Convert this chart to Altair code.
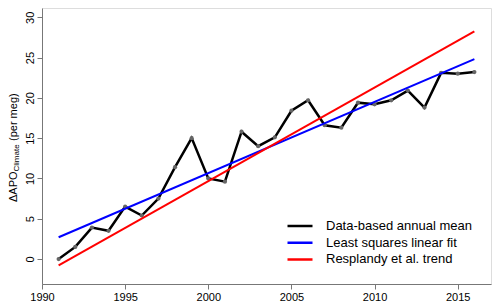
import altair as alt
import pandas as pd

years = list(range(1991, 2017))
apo = [0.0, 1.5, 3.9, 3.5, 6.5, 5.4, 7.5, 11.4, 15.0, 10.0, 9.6, 15.8, 14.0,
       15.1, 18.4, 19.7, 16.6, 16.3, 19.4, 19.2, 19.7, 20.9, 18.8, 23.1, 23.0, 23.2]
fit_years = [1991, 2016]
ls_fit = [2.7, 24.8]
resplandy = [-0.8, 28.25]
series_names = ["Data-based annual mean", "Least squares linear fit", "Resplandy et al. trend"]
series_colors = ["#000000", "#0000ff", "#ff0000"]
x_ticks = [1990, 1995, 2000, 2005, 2010, 2015]
y_ticks = [0, 5, 10, 15, 20, 25, 30]

FONT = "Liberation Sans"

data_df = pd.DataFrame({"year": years, "value": apo, "series": series_names[0]})
ls_df = pd.DataFrame({"year": fit_years, "value": ls_fit, "series": series_names[1]})
rs_df = pd.DataFrame({"year": fit_years, "value": resplandy, "series": series_names[2]})

x_enc = alt.X("year:Q", scale=alt.Scale(domain=[1990, 2017], nice=False, zero=False),
              axis=alt.Axis(values=x_ticks, format="d", title=None, grid=False,
                            tickSize=5, labelPadding=2, labelFontSize=11, labelFont=FONT,
                            labelColor="#000000", domainColor="#777777", tickColor="#777777",
                            labelFlush=False))
y_enc = alt.Y("value:Q", scale=alt.Scale(domain=[-3.1, 31.15], nice=False, zero=False),
              axis=alt.Axis(values=y_ticks, title=None, grid=False, tickSize=5,
                            labelPadding=2, labelFontSize=11, labelFont=FONT,
                            labelAngle=270, labelAlign="center", labelBaseline="bottom",
                            labelColor="#000000", domainColor="#777777", tickColor="#777777"))
color_enc = alt.Color("series:N",
                      scale=alt.Scale(domain=series_names, range=series_colors),
                      legend=alt.Legend(title=None, orient="none", legendX=244, legendY=210,
                                        symbolType="stroke", symbolSize=625,
                                        symbolStrokeWidth=2.5, labelFontSize=13,
                                        labelFont=FONT, labelColor="#000000",
                                        labelOffset=12, clipHeight=16, rowPadding=0.7,
                                        padding=0))

data_line = alt.Chart(data_df).mark_line(strokeWidth=2.5).encode(x=x_enc, y=y_enc, color=color_enc)
data_pts = alt.Chart(data_df).mark_circle(size=18, color="#666666", opacity=1).encode(x="year:Q", y="value:Q")
ls_line = alt.Chart(ls_df).mark_line(strokeWidth=2).encode(x="year:Q", y="value:Q", color=color_enc)
rs_line = alt.Chart(rs_df).mark_line(strokeWidth=2).encode(x="year:Q", y="value:Q", color=color_enc)

one = pd.DataFrame({"a": [0]})
t1 = alt.Chart(one).mark_text(text="\u0394APO", angle=270, align="left", baseline="middle",
                              fontSize=11, font=FONT, color="#000000").encode(
    x=alt.value(-28), y=alt.value(194))
t2 = alt.Chart(one).mark_text(text="Climate", angle=270, align="left", baseline="middle",
                              fontSize=8, font=FONT, color="#000000").encode(
    x=alt.value(-25), y=alt.value(163.5))
t3 = alt.Chart(one).mark_text(text="(per meg)", angle=270, align="left", baseline="middle",
                              fontSize=11, font=FONT, color="#000000").encode(
    x=alt.value(-28), y=alt.value(133))

chart = alt.layer(data_line, data_pts, ls_line, rs_line, t1, t2, t3).properties(
    width=449, height=276,
    autosize=alt.AutoSizeParams(type="none"),
    padding={"left": 42, "top": 8, "right": 9, "bottom": 24},
).configure_view(stroke="#aaaaaa", strokeWidth=1.5).configure(font=FONT)

chart.save("out.html", embed_options={"renderer": "svg", "actions": False})
